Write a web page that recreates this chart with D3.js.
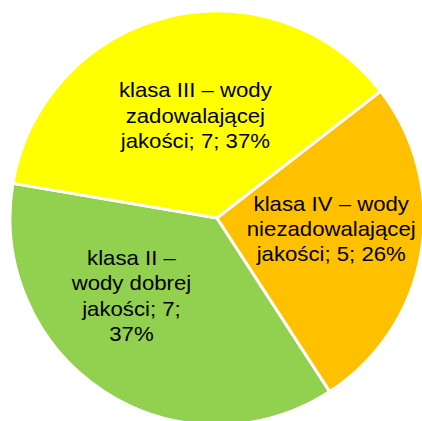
<!DOCTYPE html>
<html>
<head>
<meta charset="utf-8">
<script src="https://cdn.jsdelivr.net/npm/d3@7"></script>
<style>
  html, body { margin: 0; padding: 0; background: #fff; }
  .slice-label { font-family: "Liberation Sans", Arial, sans-serif; font-size: 20px; fill: #000; }
</style>
</head>
<body>
<div id="chart"></div>
<script>
// data
const categories = [
  'klasa II – wody dobrej jakości',
  'klasa III – wody zadowalającej jakości',
  'klasa IV – wody niezadowalającej jakości'
];
const values = [7, 7, 5];
const colors = ['#92D050', '#FFFF00', '#FFC000'];

const width = 422;
const height = 421;
const cx = 217;
const cy = 218;
const radius = 207;
const firstSliceAngle = 147; // degrees, like excel's "angle of first slice"

const svg = d3.select('#chart').append('svg').attr('width', width).attr('height', height);
const chart = svg.append('g').attr('transform', `translate(${cx},${cy})`);

const data = categories.map((c, i) => ({ name: c, value: values[i], color: colors[i] }));
const total = d3.sum(values);

const start = (firstSliceAngle * Math.PI) / 180;
const pie = d3.pie().value((d) => d.value).sort(null).startAngle(start).endAngle(start + 2 * Math.PI);
const arcs = pie(data);

const arc = d3.arc().innerRadius(0).outerRadius(radius);
const labelArc = d3.arc().innerRadius(radius * 0.55).outerRadius(radius * 0.55);

chart
  .selectAll('.slice')
  .data(arcs)
  .enter()
  .append('path')
  .classed('slice', true)
  .attr('d', arc)
  .attr('fill', (d) => d.data.color)
  .attr('stroke', '#fff')
  .attr('stroke-width', 3)
  .attr('stroke-linejoin', 'miter');

// label wrapping (excel best-fit boxes are different per slice)
const wrapWidth = [125, 160, 175];
const labelShift = [[-23, -17], [6, 8], [2, -8]];
const scaleX = 1.11;
const lineHeight = 25.3;

arcs.forEach((d, i) => {
  const pct = Math.round((d.data.value / total) * 100);
  const words = `${d.data.name}; ${d.data.value}; ${pct}%`.split(' ');
  const [px, py] = labelArc.centroid(d);
  const x = px + labelShift[i][0];
  const y = py + labelShift[i][1];

  const g = chart.append('g').attr('transform', `translate(${x},${y}) scale(${scaleX},1)`);
  const text = g.append('text').classed('slice-label', true).attr('text-anchor', 'middle');

  // greedy wrap
  const lines = [];
  let cur = [];
  const probe = text.append('tspan');
  words.forEach((w) => {
    const test = cur.concat(w).join(' ');
    probe.text(test);
    if (cur.length && probe.node().getComputedTextLength() * scaleX > wrapWidth[i]) {
      lines.push(cur.join(' '));
      cur = [w];
    } else {
      cur.push(w);
    }
  });
  lines.push(cur.join(' '));
  probe.remove();

  const first = -((lines.length - 1) / 2) * lineHeight + 7;
  lines.forEach((l, j) => {
    text.append('tspan').attr('x', 0).attr('y', first + j * lineHeight).text(l);
  });
});
</script>
</body>
</html>
